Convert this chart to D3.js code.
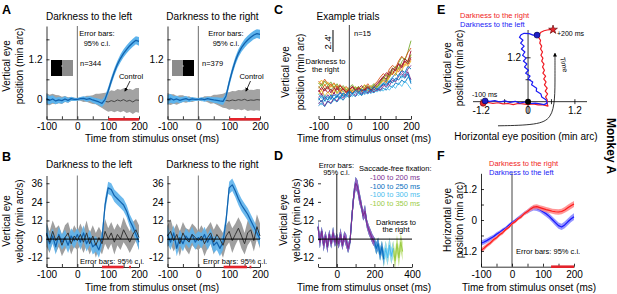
<!DOCTYPE html>
<html>
<head>
<meta charset="utf-8">
<script src="https://cdn.jsdelivr.net/npm/d3@7"></script>
<style>
  html, body { margin: 0; padding: 0; background: #fff; }
  svg { display: block; }
</style>
</head>
<body>
<svg id="chart" width="617" height="294"></svg>
<script>
"use strict";

// time base (ms)
const timeMs = [-100,-90,-80,-70,-60,-50,-40,-30,-20,-10,0,10,20,30,40,50,60,70,80,90,100,110,120,130,140,150,160,170,180,190,200];
const timeD = [-100,-90,-80,-70,-60,-50,-40,-30,-20,-10,0,10,20,30,40,50,60,70,80,90,100,110,120,130,140,150,160,170,180,190,200,210,220,230,240,250,260,270,280,290,300,310,320,330,340,350];

// A: vertical eye position (min arc)
const posLeft   = [0.02,-0.03,0.01,-0.05,-0.02,-0.04,0.01,-0.03,0.02,0.00,0.00, 0.02,0.03,0.00,0.02,-0.02,-0.05,-0.08,-0.12,0.00,0.25, 0.55,0.82,1.05,1.23,1.38,1.50,1.61,1.70,1.77,1.74];
const posLeftCi = [0.14,0.12,0.11,0.10,0.09,0.09,0.08,0.07,0.06,0.05,0.04, 0.05,0.06,0.07,0.07,0.08,0.09,0.10,0.11,0.11,0.11, 0.11,0.11,0.11,0.12,0.12,0.12,0.12,0.12,0.12,0.13];
const ctlLeft   = [0.01,-0.02,0.02,-0.01,0.00,-0.03,0.01,-0.02,0.01,0.00,0.00, 0.01,-0.01,0.02,0.00,-0.01,0.01,-0.02,-0.04,-0.06,-0.08, -0.04,-0.07,-0.02,-0.05,-0.01,-0.06,-0.03,-0.08,-0.02,-0.03];
const ctlLeftCi = [0.18,0.16,0.15,0.14,0.12,0.11,0.09,0.08,0.06,0.05,0.03, 0.05,0.07,0.09,0.11,0.13,0.16,0.19,0.22,0.26,0.29, 0.31,0.32,0.33,0.34,0.34,0.35,0.35,0.36,0.36,0.37];
const posRight   = [-0.01,0.03,-0.02,0.01,-0.03,0.00,0.02,-0.02,0.01,0.00,0.00, 0.01,-0.01,0.02,0.00,-0.02,-0.03,-0.05,-0.06,0.10,0.50, 0.85,1.15,1.38,1.55,1.68,1.78,1.86,1.93,1.97,1.95];
const posRightCi = [0.15,0.13,0.11,0.10,0.09,0.08,0.08,0.07,0.06,0.05,0.04, 0.05,0.06,0.06,0.07,0.08,0.09,0.10,0.11,0.11,0.12, 0.12,0.12,0.12,0.12,0.13,0.13,0.13,0.13,0.13,0.14];
const ctlRight   = [0.02,-0.01,0.01,-0.03,0.00,0.02,-0.01,0.01,-0.02,0.00,0.00, -0.01,0.02,0.00,-0.02,0.01,-0.01,-0.03,-0.04,-0.03,-0.05, -0.02,-0.04,-0.01,-0.03,0.00,-0.04,-0.02,-0.03,-0.01,-0.02];
const ctlRightCi = [0.17,0.16,0.14,0.13,0.12,0.10,0.09,0.08,0.06,0.05,0.03, 0.05,0.07,0.09,0.11,0.13,0.15,0.18,0.21,0.24,0.26, 0.27,0.28,0.29,0.30,0.30,0.31,0.31,0.31,0.32,0.32];
const sigA = [[100, 200]];

// B: vertical eye velocity (min arc/s)
const velLeft   = [4,-3,2,-5,3,-2,1,-4,2,-1,3, -2,4,-3,1,-5,-3,-7,0,22,33, 32,28,26,24,22,18,12,8,3,-2];
const velLeftCi = [6,5,5,5,5,5,5,5,5,5,4, 5,5,5,5,5,5,5,5,4,4, 4,4,4,4,4,4,4,4,4,5];
const vctLeft   = [3,-2,5,-1,2,-4,1,4,-3,2,-1, 3,-2,4,-3,2,-4,1,-3,5,0, 4,-2,3,0,6,2,-2,3,6,1];
const vctLeftCi = [8,7,7,8,7,7,8,7,7,7,6, 7,7,8,7,7,8,7,7,8,7, 7,8,7,7,8,7,7,8,7,8];
const velRight   = [3,-2,4,-6,1,-3,2,-1,3,-2,1, -1,3,-2,2,-4,-2,-6,-2,12,33, 35,31,26,22,19,16,12,8,4,0];
const velRightCi = [6,5,5,5,5,5,5,5,5,5,4, 5,5,5,5,5,5,5,5,4,4, 4,4,4,4,4,4,4,4,4,5];
const vctRight   = [2,5,-1,3,-3,4,0,-2,3,1,-1, 2,-3,1,4,-2,3,0,-4,2,5, -1,3,7,2,-3,4,6,-1,8,2];
const vctRightCi = [7,8,7,7,8,7,7,8,7,7,6, 7,8,7,7,8,7,7,8,7,7, 8,7,7,8,7,8,7,7,8,8];
const sigBLeft  = [[80, 150], [168, 174]];
const sigBRight = [[82, 158], [166, 172]];

// C: example trials (min arc)
const trialColors = ["#0072bd","#d95319","#edb120","#7e2f8e","#77ac30","#4dbeee","#a2142f"];
const trials = [
  [-1.5,-1.2,-1.6,-1.0,-1.3,-0.8,-1.1,-0.6,-0.9,-0.4,-0.6, -0.3,-0.5,-0.1,-0.4,0.0,-0.2,0.1,-0.1,0.3,0.1, 0.4,0.2,0.7,0.5,1.0,0.8,1.3,1.0,1.6,1.4],
  [1.2,0.8,1.4,0.9,0.6,1.0,0.5,0.8,0.3,0.6,0.2, 0.5,0.1,0.4,0.0,0.3,0.1,0.5,0.2,0.6,0.9, 1.3,1.1,1.7,2.0,2.5,2.2,2.9,3.3,3.0,3.6],
  [0.9,1.3,0.7,1.1,0.5,0.9,0.4,0.7,0.2,0.5,0.1, 0.3,0.6,0.2,0.5,0.8,0.4,0.7,0.3,0.6,1.0, 1.5,1.2,1.9,2.3,2.0,2.7,3.1,2.8,3.5,4.0],
  [-0.6,-0.2,-0.8,-0.3,-0.7,-0.1,-0.5,0.0,-0.4,0.1,-0.2, 0.2,-0.1,0.3,0.0,-0.2,0.2,-0.1,0.3,0.1,0.4, 0.8,0.5,1.1,1.5,1.2,1.9,2.3,1.8,2.5,2.9],
  [0.4,0.9,0.3,0.7,0.2,0.6,-0.1,0.4,0.0,0.3,-0.2, 0.2,0.5,0.1,0.4,0.7,0.3,0.6,0.9,0.5,1.1, 1.6,1.3,2.1,2.6,2.3,3.2,3.8,3.5,4.4,5.6],
  [-1.1,-1.4,-0.9,-1.2,-0.7,-1.0,-0.5,-0.8,-0.3,-0.6,-0.2, -0.5,-0.1,-0.4,0.0,-0.3,0.1,-0.2,0.2,0.0,0.3, 0.1,0.5,0.2,0.7,0.4,1.0,0.6,1.2,0.8,0.3],
  [0.2,-0.3,0.4,-0.1,0.3,-0.2,0.5,0.0,0.3,-0.1,0.2, 0.6,0.1,0.4,0.7,0.2,0.5,0.1,0.6,0.9,1.3, 1.7,1.4,2.2,1.9,2.7,3.0,2.6,3.4,3.1,3.8],
  [-0.9,-0.4,-1.0,-0.5,-0.8,-0.3,-0.6,-0.1,-0.5,-0.2,0.1, -0.2,0.3,0.0,-0.3,0.2,-0.1,0.3,0.6,0.2,0.5, 0.9,1.3,1.0,1.6,2.0,1.7,2.4,2.1,2.8,2.5],
  [0.6,0.2,0.8,0.3,0.9,0.4,0.7,0.1,0.5,0.0,0.4, -0.1,0.3,0.6,0.2,0.5,0.9,0.4,0.8,1.1,1.6, 2.0,1.7,2.5,2.9,2.6,3.4,3.9,3.5,4.3,4.8],
  [-0.3,0.2,-0.5,0.0,-0.4,0.3,-0.2,0.2,-0.3,0.1,0.4, 0.0,0.3,-0.1,0.2,0.5,0.1,0.4,0.0,0.5,0.8, 1.2,1.0,1.6,2.1,1.8,2.6,2.3,3.1,2.8,3.4],
  [-1.3,-0.9,-1.5,-1.0,-1.2,-0.7,-1.0,-0.4,-0.7,-0.2,-0.5, -0.1,-0.4,0.1,-0.2,0.2,-0.1,0.3,0.0,0.4,0.2, 0.6,1.0,0.7,1.3,1.1,1.7,2.0,1.6,2.2,1.3],
  [1.0,0.6,1.2,0.7,1.1,0.5,0.9,0.3,0.7,0.2,0.5, 0.8,0.3,0.6,0.1,0.4,0.7,0.3,0.8,0.5,1.0, 1.4,1.9,1.6,2.4,2.8,2.5,3.3,3.7,3.2,4.1],
  [-0.2,-0.7,-0.3,-0.9,-0.4,-0.8,-0.2,-0.6,-0.1,-0.5,0.0, -0.3,0.1,-0.2,0.3,-0.1,0.2,0.5,0.1,0.4,0.7, 1.0,0.8,1.3,1.6,1.2,1.9,1.5,2.2,1.8,1.1],
  [0.0,0.5,0.1,0.6,-0.1,0.4,0.2,0.7,0.3,0.0,0.3, 0.6,0.2,0.5,0.1,0.3,0.6,0.2,0.5,0.8,1.2, 1.6,2.1,1.8,2.6,2.3,3.1,2.8,3.6,3.3,4.5],
  [-0.7,-1.1,-0.5,-0.9,-0.3,-0.8,-0.4,-0.7,-0.1,-0.4,0.1, -0.2,0.2,-0.1,0.3,0.0,0.4,0.1,0.5,0.3,0.6, 0.9,0.7,1.2,1.0,1.5,1.3,1.8,1.5,2.0,0.9]
];
const scaleBarArcmin = 2.4;

// D: velocity for saccade-free windows
const dVel = [8,-2,5,-4,2,-5,3,-3,4,-2,1, -3,3,-4,2,-1,-6,-2,14,28,36, 34,27,22,15,18,10,6,3,0,-2, -6,-3,-10,-5,-13, -6,-12,-4,-11,-6, -14,-3,-12,-2,-8];
const dVelCi = [4,4,3,4,3,4,3,3,4,3,3, 3,4,3,3,4,3,3,4,4,4, 4,4,3,3,4,3,3,3,3,3, 4,4,4,4,5, 5,5,5,5,5, 6,6,6,6,6];
const windowEnds = [350, 300, 250, 200];
const windowLabels = ["-100 to 200 ms", "-100 to 250 ms", "-100 to 300 ms", "-100 to 350 ms"];
const windowColors = {350: ["#9ccc45", "#c6e48c"], 300: ["#4dbeee", "#95d8f4"], 250: ["#0a6fc0", "#4f95d6"], 200: ["#7b2f93", "#8f62c0"]};

// E: eye trajectory (min arc)
const eRightH = [-1.15,-1.03,-0.90,-0.77,-0.64,-0.51,-0.38,-0.26,-0.13,0.00,0.13,0.26,0.36,0.44,0.51,0.49, 0.49,0.45,0.50,0.44,0.49,0.42,0.46,0.40,0.45,0.38,0.42,0.37,0.41,0.35,0.38,0.33,0.37,0.32,0.35,0.30,0.32,0.27,0.30,0.33,0.41,0.49,0.56,0.64];
const eRightV = [-0.03,-0.02,-0.05,-0.03,-0.06,-0.05,-0.08,-0.05,-0.06,-0.08,-0.06,-0.09,-0.08,-0.10,-0.12,-0.06, 0.05,0.13,0.21,0.29,0.37,0.46,0.54,0.62,0.70,0.78,0.86,0.95,1.03,1.11,1.19,1.27,1.36,1.44,1.52,1.60,1.68,1.76,1.85,1.90,1.94,1.96,1.97,1.97];
const eLeftH = [-1.10,-0.97,-0.85,-0.72,-0.59,-0.46,-0.33,-0.21,-0.08,0.05,0.18,0.31,0.41,0.49, 0.46,0.35,0.33,0.21,0.22,0.09,0.12,0.00,0.05,-0.06,0.01,-0.09,-0.03,-0.12,-0.05,-0.14,-0.08,-0.17,-0.10,-0.19,-0.13,-0.22,-0.18,-0.10,0.03,0.13,0.23];
const eLeftV = [0.02,0.01,0.03,-0.01,0.02,-0.02,0.01,-0.04,-0.01,-0.05,-0.04,-0.06,-0.08,-0.04, 0.05,0.13,0.21,0.29,0.37,0.46,0.54,0.62,0.70,0.78,0.86,0.95,1.03,1.11,1.19,1.27,1.36,1.44,1.52,1.60,1.68,1.76,1.83,1.87,1.86,1.82,1.82];

// F: horizontal eye position (min arc)
const fRight   = [-1.18,-1.09,-0.98,-0.89,-0.77,-0.69,-0.57,-0.49,-0.37,-0.28,-0.15, -0.07,0.05,0.13,0.25,0.33,0.43,0.50,0.52,0.48,0.44, 0.40,0.37,0.34,0.32,0.31,0.33,0.39,0.47,0.55,0.62];
const fRightCi = [0.09,0.09,0.08,0.08,0.08,0.07,0.07,0.07,0.06,0.06,0.05, 0.06,0.06,0.07,0.07,0.08,0.08,0.09,0.09,0.09,0.10, 0.10,0.10,0.10,0.11,0.11,0.11,0.11,0.12,0.12,0.12];
const fLeft    = [-0.90,-0.85,-0.79,-0.72,-0.65,-0.55,-0.48,-0.39,-0.31,-0.20,-0.10, -0.02,0.08,0.16,0.26,0.33,0.41,0.46,0.45,0.40,0.32, 0.24,0.14,0.02,-0.10,-0.22,-0.27,-0.19,-0.07,0.04,0.13];
const fLeftCi  = [0.10,0.10,0.09,0.09,0.08,0.08,0.07,0.07,0.06,0.06,0.05, 0.06,0.06,0.07,0.07,0.08,0.09,0.09,0.10,0.10,0.11, 0.11,0.11,0.12,0.12,0.12,0.12,0.13,0.13,0.13,0.13];
const sigF = [[126, 200]];


// consts
const FONT = "'Liberation Sans', Arial, Helvetica, sans-serif";
const RED = "#e3232b";
let svg = d3.select("#chart");


// helpers
function txt(x, y, s, size, anchor, color, weight) {
    return svg.append("text")
    .attr("x", x)
    .attr("y", y)
    .attr("font-family", FONT)
    .attr("font-size", size)
    .attr("text-anchor", anchor || "start")
    .attr("fill", color || "#000")
    .attr("font-weight", weight || "normal")
    .text(s);
}

function vtxt(x, y, s, size) {
    return svg.append("text")
    .attr("transform", `translate(${x}, ${y}) rotate(-90)`)
    .attr("font-family", FONT)
    .attr("font-size", size)
    .attr("text-anchor", "middle")
    .text(s);
}

function styleAxis(g) {
    g.attr("font-family", FONT).attr("font-size", 10);
    g.selectAll("path, line").attr("stroke", "#000").attr("stroke-width", 0.8);
    g.selectAll("text").attr("fill", "#000");
}

function xAxis(sx, y, ticks, labels) {
    svg.append("g")
    .attr("transform", `translate(0, ${y})`)
    .call(d3.axisBottom(sx).tickValues(ticks).tickSizeInner(-3).tickSizeOuter(0).tickPadding(4)
        .tickFormat(d => labels.includes(d) ? String(d) : ""))
    .call(styleAxis);
}

function yAxis(sy, x, ticks, labels, noLine) {
    let g = svg.append("g")
    .attr("transform", `translate(${x}, 0)`)
    .call(d3.axisLeft(sy).tickValues(ticks).tickSizeInner(-3).tickSizeOuter(0).tickPadding(4)
        .tickFormat(d => labels.includes(d) ? String(d) : ""))
    .call(styleAxis);
    if (noLine) g.select("path.domain").remove();
}

function band(sx, sy, t, mean, ci, fill, opacity) {
    svg.append("path")
    .datum(t.map((d, i) => [d, mean[i], ci[i]]))
    .attr("d", d3.area().x(d => sx(d[0])).y0(d => sy(d[1] - d[2])).y1(d => sy(d[1] + d[2])))
    .attr("fill", fill)
    .attr("fill-opacity", opacity === undefined ? 1 : opacity);
}

function trace(sx, sy, t, mean, color, width) {
    svg.append("path")
    .datum(t.map((d, i) => [d, mean[i]]))
    .attr("d", d3.line().x(d => sx(d[0])).y(d => sy(d[1])))
    .attr("fill", "none")
    .attr("stroke", color)
    .attr("stroke-width", width)
    .attr("stroke-linejoin", "round");
}

function vline(sx, sy, t, color) {
    svg.append("line")
    .attr("x1", sx(t)).attr("x2", sx(t))
    .attr("y1", sy.range()[0]).attr("y2", sy.range()[1])
    .attr("stroke", color).attr("stroke-width", 1);
}

function hline(sx, sy, v, color) {
    svg.append("line")
    .attr("x1", sx.range()[0]).attr("x2", sx.range()[1])
    .attr("y1", sy(v)).attr("y2", sy(v))
    .attr("stroke", color).attr("stroke-width", 1);
}

function sigBars(sx, y, spans) {
    spans.forEach(s => {
        svg.append("line")
        .attr("x1", sx(s[0])).attr("x2", sx(s[1]))
        .attr("y1", y).attr("y2", y)
        .attr("stroke", RED).attr("stroke-width", 2.6);
    });
}


// panel A
const aY = d3.scaleLinear().domain([-0.6, 2.2]).range([119.3, 26]);
const aXL = d3.scaleLinear().domain([-100, 200]).range([46.5, 139]);
const aXR = d3.scaleLinear().domain([-100, 200]).range([167.5, 260]);

function panelA(sx, pos, posCi, ctl, ctlCi) {
    vline(sx, aY, 0, "#6d6d6d");
    band(sx, aY, timeMs, ctl, ctlCi, "#a3a3a3");
    trace(sx, aY, timeMs, ctl, "#3b3b3b", 0.9);
    band(sx, aY, timeMs, pos, posCi, "#5db3ec");
    trace(sx, aY, timeMs, pos, "#1162ae", 1.3);
    xAxis(sx, aY.range()[0], [-100,-50,0,50,100,150,200], [-100,0,100,200]);
    yAxis(aY, sx.range()[0], [0,0.6,1.2,1.8], [0,1.2]);
    sigBars(sx, aY.range()[0], sigA);
}
panelA(aXL, posLeft, posLeftCi, ctlLeft, ctlLeftCi);
panelA(aXR, posRight, posRightCi, ctlRight, ctlRightCi);

// inset stimulus icons
svg.append("rect").attr("x", 51).attr("y", 60).attr("width", 11).attr("height", 16).attr("fill", "#000");
svg.append("rect").attr("x", 62).attr("y", 60).attr("width", 11).attr("height", 16).attr("fill", "#8c8c8c");
svg.append("rect").attr("x", 172).attr("y", 60).attr("width", 11).attr("height", 16).attr("fill", "#8c8c8c");
svg.append("rect").attr("x", 183).attr("y", 60).attr("width", 11).attr("height", 16).attr("fill", "#000");
svg.append("circle").attr("cx", 62).attr("cy", 66).attr("r", 0.8).attr("fill", "#bbb");
svg.append("circle").attr("cx", 183).attr("cy", 66).attr("r", 0.8).attr("fill", "#bbb");

txt(2, 13.5, "A", 12.5, "start", "#000", "bold");
txt(89, 19.5, "Darkness to the left", 10, "middle");
txt(212.5, 19.5, "Darkness to the right", 10, "middle");
txt(97, 36, "Error bars:", 7.5, "middle");
txt(97, 46, "95% c.i.", 7.5, "middle");
txt(226, 36, "Error bars:", 7.5, "middle");
txt(226, 46, "95% c.i.", 7.5, "middle");
txt(80, 66, "n=344", 7.5);
txt(202, 66, "n=379", 7.5);
txt(131, 78.5, "Control", 7.5, "middle");
txt(251.5, 78.5, "Control", 7.5, "middle");
vtxt(10, 66, "Vertical eye", 10);
vtxt(22.5, 66, "position (min arc)", 10);
txt(152, 142, "Time from stimulus onset (ms)", 10, "middle");

// control arrows
svg.append("defs").append("marker")
.attr("id", "arrowHead")
.attr("viewBox", "0 0 10 10")
.attr("refX", 8).attr("refY", 5)
.attr("markerWidth", 5).attr("markerHeight", 5)
.attr("orient", "auto")
.append("path").attr("d", "M0,0 L10,5 L0,10 z").attr("fill", "#000");

[[130, 81, 125, 91], [250.5, 81, 246, 91]].forEach(a => {
    svg.append("line")
    .attr("x1", a[0]).attr("y1", a[1]).attr("x2", a[2]).attr("y2", a[3])
    .attr("stroke", "#000").attr("stroke-width", 0.8)
    .attr("marker-end", "url(#arrowHead)");
});


// panel B
const bY = d3.scaleLinear().domain([-18, 41]).range([267, 175.5]);

function panelB(sx, vel, velCi, vct, vctCi, sig) {
    vline(sx, bY, 0, "#777");
    band(sx, bY, timeMs, vct, vctCi, "#9f9f9f");
    band(sx, bY, timeMs, vel, velCi, "#5db3ec", 0.9);
    trace(sx, bY, timeMs, vel, "#1162ae", 1.2);
    trace(sx, bY, timeMs, vct, "#333", 1);
    hline(sx, bY, 0, "#000");
    xAxis(sx, bY.range()[0], [-100,-50,0,50,100,150,200], [-100,0,100,200]);
    yAxis(bY, sx.range()[0], [-12,0,12,24,36], [-12,0,12,24,36]);
    sigBars(sx, bY.range()[0], sig);
}
panelB(aXL, velLeft, velLeftCi, vctLeft, vctLeftCi, sigBLeft);
panelB(aXR, velRight, velRightCi, vctRight, vctRightCi, sigBRight);

txt(2, 160.5, "B", 12.5, "start", "#000", "bold");
txt(89, 167.5, "Darkness to the left", 10, "middle");
txt(212.5, 167.5, "Darkness to the right", 10, "middle");
txt(80, 263.5, "Error bars: 95% c.i.", 7.5);
txt(203, 263.5, "Error bars: 95% c.i.", 7.5);
vtxt(10, 221, "Vertical eye", 10);
vtxt(22.5, 221, "velocity (min arc/s)", 10);
txt(152, 291, "Time from stimulus onset (ms)", 10, "middle");


// panel C
const cX = d3.scaleLinear().domain([-100, 200]).range([318.5, 411]);
const cY = d3.scaleLinear().domain([-2.95, 7.2]).range([119, 26]);

trials.forEach((tr, i) => trace(cX, cY, timeMs, tr, trialColors[i % trialColors.length], 0.9));
svg.append("line")
.attr("x1", cX(0)).attr("x2", cX(0))
.attr("y1", cY.range()[0]).attr("y2", 25)
.attr("stroke", "#444").attr("stroke-width", 1);
xAxis(cX, cY.range()[0], [-100,-50,0,50,100,150,200], [-100,0,100,200]);

// scale bar
svg.append("line")
.attr("x1", cX(-53)).attr("x2", cX(-53))
.attr("y1", cY(4.36)).attr("y2", cY(4.36 + scaleBarArcmin))
.attr("stroke", "#000").attr("stroke-width", 1);
svg.append("text")
.attr("transform", `translate(${cX(-53) - 1.5}, ${cY(4.36 + scaleBarArcmin / 2) + 1}) rotate(-90)`)
.attr("font-family", FONT).attr("font-size", 9.5).attr("text-anchor", "middle")
.text("2.4'");

txt(274, 13.5, "C", 12.5, "start", "#000", "bold");
txt(348, 19.5, "Example trials", 10, "middle");
txt(354, 36, "n=15", 7.5);
txt(325.5, 63.5, "Darkness to", 7.5, "middle");
txt(325.5, 71.5, "the right", 7.5, "middle");
vtxt(289, 72, "Vertical eye", 10);
vtxt(304, 72, "position (min arc)", 10);
txt(364, 142, "Time from stimulus onset (ms)", 10, "middle");


// panel D
const dX = d3.scaleLinear().domain([-100, 400]).range([318, 412]);
const dY = d3.scaleLinear().domain([-18, 42]).range([267, 174]);

windowEnds.forEach(end => {
    let t = timeD.filter(d => d <= end);
    let m = dVel.slice(0, t.length);
    let c = dVelCi.slice(0, t.length);
    band(dX, dY, t, m, c, windowColors[end][1]);
    trace(dX, dY, t, m, windowColors[end][0], 1.1);
});
vline(dX, dY, 0, "#222");
hline(dX, dY, 0, "#000");
xAxis(dX, dY.range()[0], [-100,0,100,200,300,400], [0,200,400]);
yAxis(dY, dX.range()[0], [-12,0,12,24,36], [-12,0,12,24,36], true);

txt(274, 160, "D", 12.5, "start", "#000", "bold");
txt(336.5, 167.5, "Error bars:", 7.5, "middle");
txt(336.5, 175, "95% c.i.", 7.5, "middle");
txt(359, 171, "Saccade-free fixation:", 7.5);
[200, 250, 300, 350].forEach((end, i) => {
    txt(370, 180 + i * 8.6, windowLabels[i], 7.5, "start", windowColors[end][0]);
});
txt(396, 224.5, "Darkness to", 7.5, "middle");
txt(396, 232, "the right", 7.5, "middle");
vtxt(287, 220, "Vertical eye", 10);
vtxt(300, 220, "velocity (min arc/s)", 10);
txt(364, 291, "Time from stimulus onset (ms)", 10, "middle");


// panel E
const eX = d3.scaleLinear().domain([-1.41, 1.51]).range([473, 587]);
const eY = d3.scaleLinear().domain([-0.31, 1.96]).range([113, 30]);

let eAx = svg.append("g").attr("stroke", "#000").attr("stroke-width", 0.8);
eAx.append("line").attr("x1", eX.range()[0]).attr("x2", eX.range()[1]).attr("y1", eY(0)).attr("y2", eY(0));
eAx.append("line").attr("x1", eX(0)).attr("x2", eX(0)).attr("y1", eY.range()[0]).attr("y2", eY.range()[1]);
[-1.2, -0.6, 0.6, 1.2].forEach(h => eAx.append("line").attr("x1", eX(h)).attr("x2", eX(h)).attr("y1", eY(0) - 2.5).attr("y2", eY(0) + 2.5));
[0.6, 1.2].forEach(v => eAx.append("line").attr("x1", eX(0) - 2.5).attr("x2", eX(0) + 2.5).attr("y1", eY(v)).attr("y2", eY(v)));
txt(eX(-1.2), eY(0) + 12, "-1.2", 10, "middle");
txt(eX(0), eY(0) + 12, "0", 10, "middle");
txt(eX(1.2), eY(0) + 12, "1.2", 10, "middle");
txt(eX(0) - 7, eY(1.2) + 3.5, "1.2", 10, "end");

let eLine = d3.line().x(d => eX(d[0])).y(d => eY(d[1]));
svg.append("path")
.datum(eRightH.map((h, i) => [h, eRightV[i]]))
.attr("d", eLine).attr("fill", "none").attr("stroke", "#f01c24").attr("stroke-width", 1.2).attr("stroke-linejoin", "round");
svg.append("path")
.datum(eLeftH.map((h, i) => [h, eLeftV[i]]))
.attr("d", eLine).attr("fill", "none").attr("stroke", "#1b1bf5").attr("stroke-width", 1.2).attr("stroke-linejoin", "round");

// markers: start (-100 ms), stimulus onset, end (+200 ms)
svg.append("circle").attr("cx", eX(eRightH[0])).attr("cy", eY(eRightV[0]) + 0.5).attr("r", 3).attr("fill", "#e8242b").attr("stroke", "#600").attr("stroke-width", 0.6);
svg.append("circle").attr("cx", eX(eLeftH[0])).attr("cy", eY(eLeftV[0])).attr("r", 3).attr("fill", "#1d1dc8").attr("stroke", "#000040").attr("stroke-width", 0.6);
svg.append("circle").attr("cx", eX(0)).attr("cy", eY(0)).attr("r", 3).attr("fill", "#000");
svg.append("circle").attr("cx", eX(eLeftH[eLeftH.length - 1])).attr("cy", eY(eLeftV[eLeftV.length - 1])).attr("r", 3).attr("fill", "#1d1dc8").attr("stroke", "#000040").attr("stroke-width", 0.6);
svg.append("path")
.attr("transform", `translate(${eX(eRightH[eRightH.length - 1])}, ${eY(eRightV[eRightV.length - 1])})`)
.attr("d", d3.symbol().type(d3.symbolStar).size(24))
.attr("fill", "#e8242b").attr("stroke", "#500").attr("stroke-width", 0.6);

// time arrow
const timeArrow = [[-0.77, -0.66], [0.25, -0.64], [0.6, -0.45], [0.69, 0.05], [0.69, 0.7], [0.69, 1.32]];
svg.append("path")
.datum(timeArrow)
.attr("d", d3.line().x(d => eX(d[0])).y(d => eY(d[1])).curve(d3.curveBasis))
.attr("fill", "none").attr("stroke", "#000").attr("stroke-width", 0.8)
.attr("marker-end", "url(#arrowHead)");
svg.append("text")
.attr("transform", `translate(${eX(0.86)}, ${eY(1.0)}) rotate(78)`)
.attr("font-family", FONT).attr("font-size", 7).attr("text-anchor", "middle")
.text("Time");

txt(437, 13.5, "E", 12.5, "start", "#000", "bold");
txt(460, 17.5, "Darkness to the right", 7.5, "start", "#f01c24");
txt(460, 26.5, "Darkness to the left", 7.5, "start", "#1b1bf5");
txt(557, 35.5, "+200 ms", 7);
txt(472, 96.5, "-100 ms", 7);
vtxt(451, 68, "Vertical eye", 10);
vtxt(462.5, 68, "position (min arc)", 10);
txt(526, 140, "Horizontal eye position (min arc)", 10, "middle");


// panel F
const fX = d3.scaleLinear().domain([-100, 200]).range([481, 574]);
const fY = d3.scaleLinear().domain([-1.81, 1.81]).range([266.7, 173.3]);

vline(fX, fY, 0, "#444");
band(fX, fY, timeMs, fLeft, fLeftCi, "#8383ff", 0.85);
trace(fX, fY, timeMs, fLeft, "#1717ff", 1.2);
band(fX, fY, timeMs, fRight, fRightCi, "#ff8585", 0.85);
trace(fX, fY, timeMs, fRight, "#ff1a1a", 1.2);
xAxis(fX, fY.range()[0], [-100,-50,0,50,100,150,200], [-100,0,100,200]);
yAxis(fY, fX.range()[0], [-1.2,-0.6,0,0.6,1.2], [-1.2,0,1.2]);
sigBars(fX, fY.range()[0], sigF);

txt(437, 160, "F", 12.5, "start", "#000", "bold");
txt(489, 166, "Darkness to the right", 7.5, "start", "#f01c24");
txt(489, 175, "Darkness to the left", 7.5, "start", "#1b1bf5");
txt(516, 254, "Error bars: 95% c.i.", 7.5);
vtxt(451, 220, "Horizontal eye", 10);
vtxt(462.5, 220, "position (min arc)", 10);
txt(529, 291, "Time from stimulus onset (ms)", 10, "middle");

// monkey label
svg.append("text")
.attr("transform", "translate(606.5, 146) rotate(90)")
.attr("font-family", FONT).attr("font-size", 12).attr("font-weight", "bold").attr("text-anchor", "middle")
.text("Monkey A");
</script>
</body>
</html>
